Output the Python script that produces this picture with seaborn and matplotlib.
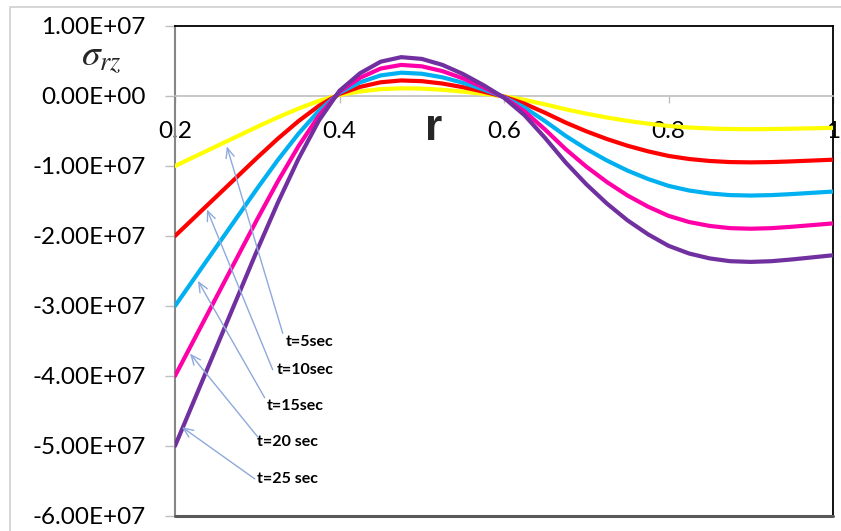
import matplotlib
matplotlib.use("Agg")
import matplotlib.pyplot as plt
from matplotlib.patches import Rectangle
import pandas as pd
import seaborn as sns

# ---------------- data ----------------
r_values = [0.200, 0.225, 0.250, 0.275, 0.300, 0.325, 0.350, 0.375, 0.400, 0.425,
            0.450, 0.475, 0.500, 0.525, 0.550, 0.575, 0.600, 0.625, 0.650, 0.675,
            0.700, 0.725, 0.750, 0.775, 0.800, 0.825, 0.850, 0.875, 0.900, 0.925,
            0.950, 0.975, 1.000]

# sigma_rz in units of 1e7
t5 = [-1.00, -0.86, -0.72, -0.58, -0.44, -0.305, -0.18, -0.07, 0.015, 0.065,
      0.098, 0.11, 0.106, 0.089, 0.063, 0.031, -0.005, -0.055, -0.12, -0.19,
      -0.252, -0.307, -0.355, -0.395, -0.428, -0.45, -0.464, -0.472, -0.474, -0.472,
      -0.467, -0.461, -0.455]
t10 = [-2.00, -1.72, -1.44, -1.16, -0.88, -0.61, -0.36, -0.14, 0.03, 0.13,
       0.196, 0.222, 0.212, 0.178, 0.126, 0.062, -0.01, -0.11, -0.24, -0.38,
       -0.504, -0.614, -0.71, -0.79, -0.856, -0.90, -0.928, -0.944, -0.948, -0.944,
       -0.934, -0.922, -0.91]
t15 = [-3.00, -2.58, -2.16, -1.74, -1.32, -0.915, -0.54, -0.21, 0.045, 0.195,
       0.294, 0.333, 0.318, 0.267, 0.189, 0.093, -0.015, -0.165, -0.36, -0.57,
       -0.756, -0.921, -1.065, -1.185, -1.284, -1.35, -1.392, -1.416, -1.422, -1.416,
       -1.401, -1.383, -1.365]
t20 = [-4.00, -3.44, -2.88, -2.32, -1.76, -1.22, -0.72, -0.28, 0.06, 0.26,
       0.392, 0.444, 0.424, 0.356, 0.252, 0.124, -0.02, -0.22, -0.48, -0.76,
       -1.008, -1.228, -1.42, -1.58, -1.712, -1.80, -1.856, -1.888, -1.896, -1.888,
       -1.868, -1.844, -1.82]
t25 = [-5.00, -4.30, -3.60, -2.90, -2.20, -1.525, -0.90, -0.35, 0.075, 0.325,
       0.49, 0.555, 0.53, 0.445, 0.315, 0.155, -0.025, -0.275, -0.60, -0.95,
       -1.26, -1.535, -1.775, -1.975, -2.14, -2.25, -2.32, -2.36, -2.37, -2.36,
       -2.335, -2.305, -2.275]

series_names = ["t=5sec", "t=10sec", "t=15sec", "t=20 sec", "t=25 sec"]
series_values = [t5, t10, t15, t20, t25]
series_colors = ["#FFFF00", "#FF0000", "#00B0F0", "#FF00A8", "#7030A0"]

x_ticks = [0.2, 0.4, 0.6, 0.8, 1.0]
x_tick_labels = ["0.2", "0.4", "0.6", "0.8", "1"]
y_ticks = [1e7, 0, -1e7, -2e7, -3e7, -4e7, -5e7, -6e7]
y_tick_labels = ["1.00E+07", "0.00E+00", "-1.00E+07", "-2.00E+07", "-3.00E+07",
                 "-4.00E+07", "-5.00E+07", "-6.00E+07"]

rows = []
for name, vals in zip(series_names, series_values):
    for rv, sv in zip(r_values, vals):
        rows.append({"r": rv, "sigma": sv * 1e7, "series": name})
df = pd.DataFrame(rows)

# ---------------- style ----------------
sns.set_style("white")
plt.rcParams["font.family"] = ["Lato", "DejaVu Sans"]
plt.rcParams["mathtext.fontset"] = "stix"
plt.rcParams["lines.solid_joinstyle"] = "round"
plt.rcParams["lines.solid_capstyle"] = "round"

fig = plt.figure(figsize=(8.41, 5.31), dpi=100)
ax = fig.add_axes([175 / 841, 1 - 516 / 531, (833 - 175) / 841, (516 - 26) / 531])

sns.lineplot(data=df, x="r", y="sigma", hue="series", hue_order=series_names,
             palette=dict(zip(series_names, series_colors)), linewidth=3.0,
             estimator=None, sort=False, legend=False, ax=ax, zorder=3)

ax.set_xlim(0.2, 1.0)
ax.set_ylim(-6e7, 1e7)
ax.set_xlabel("")
ax.set_ylabel("")

# y axis
ax.set_yticks(y_ticks, y_tick_labels)
ax.tick_params(axis="y", direction="out", length=7, width=1, color="#BFBFBF",
               labelsize=17.5, pad=14, labelcolor="#000000", left=True)
# x axis crossing at zero
ax.spines["bottom"].set_position(("data", 0))
ax.spines["bottom"].set_color("#BFBFBF")
ax.spines["bottom"].set_linewidth(1.2)
ax.set_xticks(x_ticks, x_tick_labels)
ax.tick_params(axis="x", direction="out", length=5, width=1, color="#BFBFBF",
               labelsize=17.5, pad=13, labelcolor="#000000", bottom=True)

ax.spines["left"].set_color("#868686")
ax.spines["left"].set_linewidth(1.5)
for s in ("top", "right"):
    ax.spines[s].set_color("#000000")
    ax.spines[s].set_linewidth(1.3)
ax.plot([0, 1], [0, 0], transform=ax.transAxes, color="#595959", lw=2.2,
        clip_on=False, zorder=5)

# axis titles
ax.text(0.515, -0.63e7, "r", fontsize=32, fontweight="bold", ha="center",
        va="baseline", family=["Liberation Sans", "DejaVu Sans"])
fig.text(81 / 841, 1 - 66 / 531, r"$\sigma_{rz}$", fontsize=27, ha="left",
         va="baseline")

# annotations
ann_text_pos = [(0.3345, -3.51e7), (0.3236, -3.91e7), (0.3115, -4.43e7),
                (0.2994, -4.94e7), (0.2994, -5.47e7)]
ann_tail = [(0.331, -3.39e7), (0.3188, -3.91e7), (0.309, -4.31e7),
            (0.3006, -4.87e7), (0.297, -5.47e7)]
ann_head = [(0.263, -0.72e7), (0.2388, -1.62e7), (0.2279, -2.64e7),
            (0.2182, -3.68e7), (0.2085, -4.73e7)]
for name, tp, tail, head in zip(series_names, ann_text_pos, ann_tail, ann_head):
    ax.annotate("", xy=head, xytext=tail,
                arrowprops=dict(arrowstyle="->,head_length=0.7,head_width=0.3",
                                color="#8EA9DB", lw=1.0, shrinkA=0, shrinkB=0),
                zorder=6)
    ax.text(tp[0], tp[1], name, fontsize=11.5, fontweight="bold", ha="left",
            va="center", color="#000000", zorder=7)

# outer light border
fig.patches.append(Rectangle((10 / 841, -0.1), 1.2, 1 - 7 / 531 + 0.1,
                             transform=fig.transFigure, fill=False,
                             edgecolor="#D0D0D0", lw=1.2))

fig.savefig("out.png", dpi=100)
